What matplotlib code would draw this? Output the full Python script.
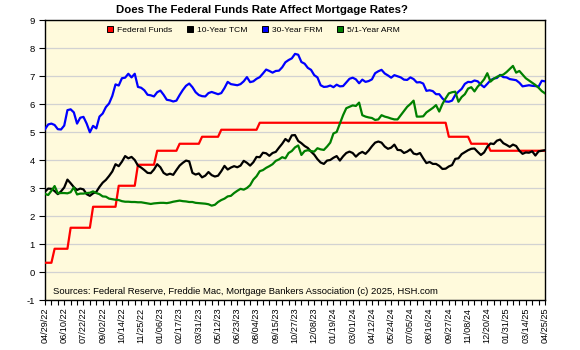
import numpy as np
import pandas as pd
import matplotlib
matplotlib.use("Agg")
import matplotlib.pyplot as plt
from matplotlib.patches import Patch

# ---------------- data ----------------
start_date = "2022-04-29"   # weekly observations (Fridays)

fed_funds = ([0.33] * 3 + [0.83] * 5 + [1.58] * 7 + [2.33] * 8 + [3.08] * 6 +
             [3.83] * 6 + [4.33] * 7 + [4.58] * 7 + [4.83] * 6 + [5.08] * 12 +
             [5.33] * 59 + [4.83] * 7 + [4.58] * 6 + [4.33] * 18)

tcm_10yr = [
    2.87, 2.98, 2.97, 2.89, 2.78, 2.88, 3.02, 3.30, 3.17, 3.03,
    2.93, 2.98, 2.95, 2.78, 2.72, 2.81, 2.86, 3.04, 3.19, 3.29,
    3.43, 3.59, 3.85, 3.78, 3.94, 4.14, 4.06, 4.11, 4.00, 3.80,
    3.73, 3.64, 3.54, 3.53, 3.66, 3.85,
    3.74, 3.54, 3.47, 3.51, 3.47, 3.64, 3.80, 3.90, 3.98, 3.95,
    3.54, 3.48, 3.52, 3.38, 3.44, 3.57, 3.46, 3.41, 3.44, 3.60,
    3.79, 3.66, 3.73, 3.78, 3.74, 3.80, 3.97, 3.90, 3.80, 3.92,
    4.11, 4.10, 4.26, 4.24, 4.15, 4.25, 4.29, 4.44, 4.58, 4.75,
    4.66, 4.88, 4.89, 4.68, 4.60, 4.50, 4.43, 4.30, 4.19, 4.03,
    3.91, 3.86,
    3.98, 4.00, 4.08, 4.14, 3.98, 4.13, 4.25, 4.30, 4.25, 4.12,
    4.23, 4.29, 4.22, 4.34, 4.49, 4.62, 4.66, 4.62, 4.48, 4.40,
    4.44, 4.55, 4.36, 4.35, 4.25, 4.30, 4.38, 4.23, 4.20, 4.25,
    4.06, 3.89, 3.93, 3.86, 3.86, 3.79, 3.68, 3.69, 3.77, 3.82,
    4.04, 4.06, 4.21, 4.28, 4.35, 4.40, 4.41, 4.29, 4.18, 4.27,
    4.47, 4.59,
    4.57, 4.69, 4.73, 4.60, 4.54, 4.47, 4.55, 4.50, 4.33, 4.22,
    4.27, 4.26, 4.31, 4.16, 4.31, 4.33, 4.35]

frm_30yr = [
    5.10, 5.27, 5.30, 5.25, 5.10, 5.09, 5.23, 5.78, 5.81, 5.70,
    5.30, 5.51, 5.54, 5.30, 4.99, 5.22, 5.13, 5.55, 5.66, 5.89,
    6.02, 6.29, 6.70, 6.66, 6.92, 6.94, 7.08, 6.95, 7.08, 6.61,
    6.58, 6.49, 6.33, 6.31, 6.27, 6.42,
    6.48, 6.33, 6.15, 6.13, 6.09, 6.12, 6.32, 6.50, 6.65, 6.73,
    6.60, 6.42, 6.32, 6.28, 6.27, 6.39, 6.43, 6.39, 6.35, 6.39,
    6.57, 6.79, 6.71, 6.69, 6.67, 6.71, 6.81, 6.96, 6.78, 6.81,
    6.90, 6.96, 7.09, 7.23, 7.18, 7.12, 7.18, 7.19, 7.31, 7.49,
    7.57, 7.63, 7.79, 7.76, 7.50, 7.44, 7.29, 7.22, 7.03, 6.95,
    6.67, 6.61,
    6.62, 6.66, 6.60, 6.69, 6.63, 6.64, 6.77, 6.90, 6.94, 6.88,
    6.74, 6.87, 6.79, 6.82, 6.88, 7.10, 7.17, 7.22, 7.09, 7.02,
    6.94, 7.03, 6.99, 6.95, 6.87, 6.86, 6.95, 6.89, 6.77, 6.78,
    6.73, 6.47, 6.49, 6.46, 6.35, 6.35, 6.20, 6.09, 6.08, 6.12,
    6.32, 6.44, 6.54, 6.72, 6.79, 6.78, 6.84, 6.81, 6.69, 6.60,
    6.72, 6.85,
    6.91, 6.93, 7.04, 6.96, 6.95, 6.89, 6.87, 6.85, 6.76, 6.63,
    6.65, 6.67, 6.65, 6.64, 6.62, 6.83, 6.81]

arm_51 = [
    2.79, 2.75, 2.90, 3.07, 2.81, 2.82, 2.82, 2.81, 2.85, 3.02,
    2.77, 2.80, 2.80, 2.82, 2.83, 2.88, 2.82, 2.78, 2.70, 2.69,
    2.62, 2.60, 2.58, 2.57, 2.53, 2.51, 2.51, 2.50, 2.50, 2.49,
    2.49, 2.47, 2.45, 2.43, 2.45, 2.46, 2.47, 2.47, 2.46, 2.48,
    2.51, 2.53, 2.55, 2.53, 2.52, 2.50, 2.50, 2.47, 2.46, 2.45,
    2.44, 2.42, 2.37, 2.40, 2.50, 2.57, 2.62, 2.70, 2.72, 2.82,
    2.90, 2.97, 2.94, 3.00, 3.10, 3.30, 3.42, 3.60, 3.64, 3.72,
    3.78, 3.85, 3.97, 4.02, 4.10, 4.06, 4.25, 4.32, 4.45, 4.52,
    4.18, 4.32, 4.35, 4.32, 4.30, 4.42, 4.38, 4.36, 4.48, 4.62,
    4.95, 5.00, 5.30, 5.60, 5.85, 5.90, 5.95, 5.93, 6.05, 5.60,
    5.55, 5.52, 5.50, 5.43, 5.45, 5.60, 5.55, 5.52, 5.48, 5.45,
    5.45, 5.60, 5.75, 5.90, 6.00, 6.12, 5.55, 5.55, 5.56, 5.70,
    5.78, 5.86, 5.96, 5.73, 6.00, 6.20, 6.38, 6.42, 6.44, 6.08,
    6.25, 6.35, 6.55, 6.60, 6.45, 6.62, 6.74, 6.88, 7.10, 6.80,
    6.90, 6.97, 7.02, 7.05, 7.14, 7.25, 7.36, 7.12, 7.18, 7.05,
    6.92, 6.84, 6.76, 6.68, 6.58, 6.46, 6.38]

series_names = ["Federal Funds", "10-Year TCM", "30-Year FRM", "5/1-Year ARM"]
series_colors = ["#FF0000", "#000000", "#0000FF", "#008000"]

x_tick_labels = ["04/29/22", "06/10/22", "07/22/22", "09/02/22", "10/14/22",
                 "11/25/22", "01/06/23", "02/17/23", "03/31/23", "05/12/23",
                 "06/23/23", "08/04/23", "09/15/23", "10/27/23", "12/08/23",
                 "01/19/24", "03/01/24", "04/12/24", "05/24/24", "07/05/24",
                 "08/16/24", "09/27/24", "11/08/24", "12/20/24", "01/31/25",
                 "03/14/25", "04/25/25"]
y_ticks = list(range(-1, 10))

title = "Does The Federal Funds Rate Affect Mortgage Rates?"
source_note = ("Sources: Federal Reserve, Freddie Mac, Mortgage Bankers "
               "Association (c) 2025, HSH.com")

all_series = [fed_funds, tcm_10yr, frm_30yr, arm_51]
for name, s in zip(series_names, all_series):
    assert len(s) == 157, f"{name} has {len(s)} points"

# ---------------- plot ----------------
plt.rcParams["font.family"] = ["Liberation Sans", "DejaVu Sans"]
W, H = 580, 350
fig = plt.figure(figsize=(W / 100, H / 100), dpi=100)
fig.patch.set_facecolor("white")
ax = fig.add_axes([45 / W, 50 / H, 500 / W, 280 / H])
ax.set_facecolor("#FFFADC")

weeks = pd.date_range(start_date, periods=len(fed_funds), freq="7D")

for s, c in zip(all_series, series_colors):
    ax.plot(weeks, s, color=c, lw=1.6, solid_joinstyle="round", zorder=3)

ax.set_ylim(-1, 9)
ax.set_yticks(y_ticks)
ax.set_yticklabels([str(v) for v in y_ticks], fontsize=6.8)
ax.grid(axis="y", color="#D2D2D2", lw=0.9, zorder=1)
ax.set_axisbelow(True)

tick_dates = pd.to_datetime(x_tick_labels, format="%m/%d/%y")
ax.set_xlim(weeks[0], weeks[-1])
ax.set_xticks(tick_dates)
ax.set_xticklabels(x_tick_labels, rotation=90, fontsize=6.6)
ax.set_xticks(weeks[::2], minor=True)
ax.tick_params(axis="x", which="both", direction="out", length=3.5,
               width=0.8, pad=2)
ax.tick_params(axis="y", direction="out", length=4, width=0.8, pad=3.5)

for sp in ax.spines.values():
    sp.set_color("black")
    sp.set_linewidth(1.0)

handles = [Patch(facecolor=c, edgecolor="black", lw=0.7) for c in series_colors]
ax.legend(handles, series_names, loc="upper left",
          bbox_to_anchor=((107 - 45) / 500, (300 - 26) / 280),
          ncol=4, frameon=False, fontsize=6.1, handlelength=0.7,
          handleheight=0.7, handletextpad=0.5, columnspacing=1.7,
          borderpad=0, borderaxespad=0)

ax.text((53 - 45) / 500, (300 - 291) / 280, source_note, transform=ax.transAxes,
        fontsize=6.8, ha="left", va="center")

fig.text(262 / W, 1 - 10 / H, title, ha="center", va="center",
         fontsize=8.2, fontweight="bold")

fig.savefig("out.png", dpi=100, facecolor="white")
